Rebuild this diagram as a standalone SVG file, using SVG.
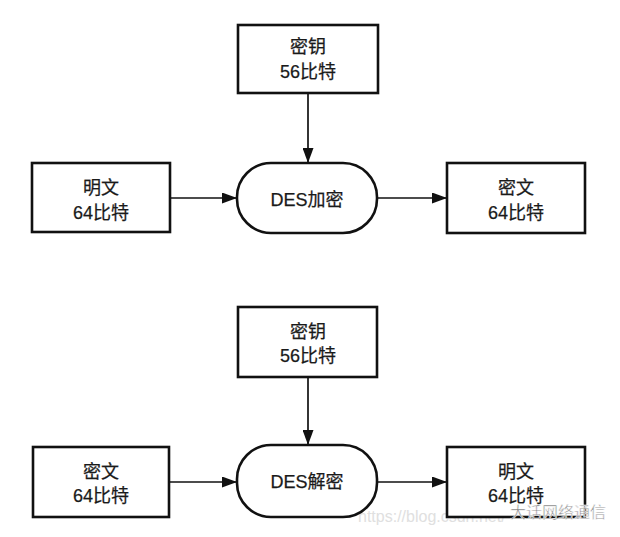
<svg xmlns="http://www.w3.org/2000/svg" width="620" height="537" viewBox="0 0 620 537">
<style>
.box{fill:#fff;stroke:#111;stroke-width:2.6}
.t{font-family:"Liberation Sans","Noto Sans CJK SC",sans-serif;font-size:18px;fill:#1a1a1a;text-anchor:middle;stroke:#1a1a1a;stroke-width:0.25}
.ln{stroke:#111;stroke-width:1.7;fill:none}
.wm{font-family:"Liberation Sans","Noto Sans CJK SC",sans-serif;font-size:16px;fill:#e0e0e0}
.wm2{font-family:"Liberation Sans","Noto Sans CJK SC",sans-serif;font-size:16px;fill:#777;stroke:#fff;stroke-width:0.5}
</style>
<defs>
<marker id="ar" viewBox="0 0 15 11" refX="15" refY="5.5" markerWidth="15" markerHeight="11" markerUnits="userSpaceOnUse" orient="auto">
<path d="M0,0 L15,5.5 L0,11 Z" fill="#111"/>
</marker>
</defs>
<rect width="620" height="537" fill="#fff"/>
<text class="wm" x="358" y="522">https://blog.csdn.net/</text>
<g id="connectors">
<line class="ln" x1="308" y1="93" x2="308" y2="163" marker-end="url(#ar)"/>
<line class="ln" x1="170" y1="198" x2="237" y2="198" marker-end="url(#ar)"/>
<line class="ln" x1="377" y1="198" x2="447" y2="198" marker-end="url(#ar)"/>
<line class="ln" x1="308" y1="377" x2="308" y2="445" marker-end="url(#ar)"/>
<line class="ln" x1="169" y1="482" x2="237" y2="482" marker-end="url(#ar)"/>
<line class="ln" x1="377" y1="482" x2="447" y2="482" marker-end="url(#ar)"/>
</g>
<g id="key1"><rect class="box" x="238" y="25" width="140" height="68"/>
<text class="t" x="308" y="53">密钥</text><text class="t" x="308" y="78">56比特</text></g>
<g id="plain1"><rect class="box" x="32" y="163" width="138" height="69"/>
<text class="t" x="101" y="194">明文</text><text class="t" x="101" y="219">64比特</text></g>
<g id="des-enc"><rect class="box" x="237" y="163" width="140" height="70" rx="34" ry="34"/>
<text class="t" x="307" y="206">DES加密</text></g>
<g id="cipher1"><rect class="box" x="447" y="163" width="138" height="70"/>
<text class="t" x="516" y="194">密文</text><text class="t" x="516" y="219">64比特</text></g>
<g id="key2"><rect class="box" x="238" y="307" width="139" height="70"/>
<text class="t" x="308" y="338">密钥</text><text class="t" x="308" y="362">56比特</text></g>
<g id="cipher2"><rect class="box" x="33" y="447" width="136" height="70"/>
<text class="t" x="101" y="478">密文</text><text class="t" x="101" y="502">64比特</text></g>
<g id="des-dec"><rect class="box" x="237" y="445" width="140" height="72" rx="34" ry="34"/>
<text class="t" x="307" y="488">DES解密</text></g>
<g id="plain2"><rect class="box" x="447" y="447" width="138" height="70"/>
<text class="t" x="516" y="478">明文</text><text class="t" x="516" y="502">64比特</text></g>
<text class="wm2" x="510" y="518">大话网络通信</text>
</svg>
